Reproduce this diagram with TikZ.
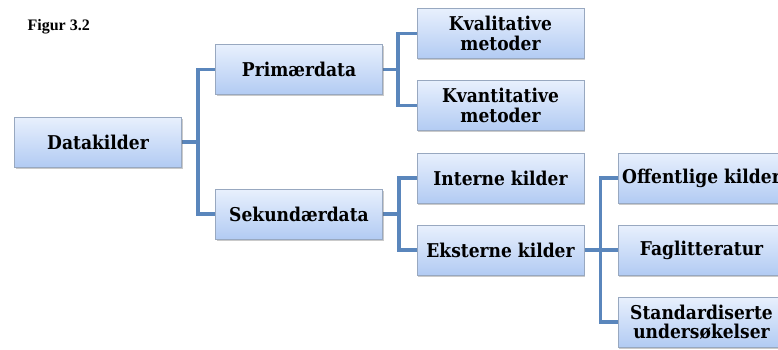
\documentclass[tikz,border=0pt]{standalone}
\usepackage{fontspec}
\setmainfont{Liberation Serif}
\newfontfamily\boxfont[FakeStretch=0.9]{DejaVu Serif}
\usetikzlibrary{shadows,backgrounds}
\definecolor{connc}{HTML}{5A86BC}
\definecolor{boxborder}{HTML}{98A8C0}
\definecolor{boxtop}{HTML}{E8F0FD}
\definecolor{boxbot}{HTML}{B2CBF3}
\begin{document}
\begin{tikzpicture}[x=1pt,y=-1pt,
  box/.style={draw=boxborder, line width=0.7pt, top color=boxtop, bottom color=boxbot,
    minimum width=167pt, minimum height=50pt, inner sep=0pt, align=center,
    font=\boxfont\bfseries\fontsize{19}{19.5}\selectfont,
    drop shadow={shadow xshift=1.2pt, shadow yshift=-1.8pt, opacity=0.35, fill=black!60}},
  conn/.style={draw=connc, line width=3.6pt, line join=miter}]
\clip (0,0) rectangle (778,349);
\useasboundingbox (0,0) rectangle (778,349);
\node[font=\bfseries\fontsize{16}{18}\selectfont, anchor=west] (fig) at (24,27) {Figur 3.2};
\node[box] (dk) at (98,142) {Datakilder};
\node[box] (pd) at (299,69.5) {Primærdata};
\node[box] (sd) at (299,214) {Sekundærdata};
\node[box] (kl) at (500.5,33.5) {Kvalitative\\metoder};
\node[box] (kn) at (500.5,105.5) {Kvantitative\\metoder};
\node[box] (ik) at (500.5,178) {Interne kilder};
\node[box] (ek) at (500.5,250) {Eksterne kilder};
\node[box] (ok) at (701.5,178) {Offentlige kilder};
\node[box] (fl) at (701.5,250) {Faglitteratur};
\node[box] (su) at (701.5,322) {Standardiserte\\undersøkelser};
\begin{scope}[on background layer]
\draw[conn] (dk.east) -- ++(16,0) |- (pd.west);
\draw[conn] (dk.east) -- ++(16,0) |- (sd.west);
\draw[conn] (pd.east) -- ++(15,0) |- (kl.west);
\draw[conn] (pd.east) -- ++(15,0) |- (kn.west);
\draw[conn] (sd.east) -- ++(16,0) |- (ik.west);
\draw[conn] (sd.east) -- ++(16,0) |- (ek.west);
\draw[conn] (ek.east) -- ++(16,0) |- (ok.west);
\draw[conn] (ek.east) -- ++(16,0) |- (fl.west);
\draw[conn] (ek.east) -- ++(16,0) |- (su.west);
\end{scope}
\end{tikzpicture}
\end{document}
